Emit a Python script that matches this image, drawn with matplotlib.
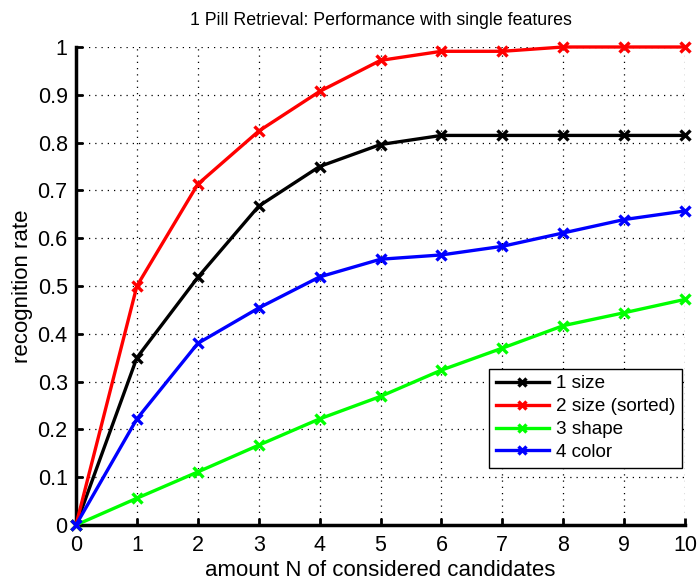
import matplotlib
matplotlib.use("Agg")
import matplotlib.pyplot as plt

plt.rcParams['font.family'] = ['Liberation Sans', 'DejaVu Sans']

n_candidates = list(range(0, 11))
rate_size = [0, 0.350, 0.518, 0.667, 0.750, 0.796, 0.815, 0.815, 0.815, 0.815, 0.815]
rate_size_sorted = [0, 0.500, 0.713, 0.824, 0.907, 0.972, 0.991, 0.991, 1.000, 1.000, 1.000]
rate_shape = [0, 0.056, 0.111, 0.167, 0.222, 0.269, 0.324, 0.370, 0.417, 0.444, 0.472]
rate_color = [0, 0.222, 0.380, 0.454, 0.519, 0.556, 0.565, 0.583, 0.611, 0.639, 0.657]

series = [
    ("1 size", rate_size, "#000000"),
    ("2 size (sorted)", rate_size_sorted, "#ff0000"),
    ("3 shape", rate_shape, "#00ff00"),
    ("4 color", rate_color, "#0000ff"),
]
x_ticks = list(range(0, 11))
y_ticks = [0, 0.1, 0.2, 0.3, 0.4, 0.5, 0.6, 0.7, 0.8, 0.9, 1.0]
y_tick_labels = ["0", "0.1", "0.2", "0.3", "0.4", "0.5", "0.6", "0.7", "0.8", "0.9", "1"]

fig = plt.figure(figsize=(6.98, 5.82), dpi=100)
ax = fig.add_axes([76 / 698, 1 - 525 / 582, 609 / 698, 478 / 582])

for label, values, color in series:
    ax.plot(n_candidates, values, color=color, lw=2.4, marker='x', ms=7,
            mew=2.4, label=label, clip_on=False, zorder=3)

ax.set_xlim(0, 10)
ax.set_ylim(0, 1)
ax.set_xticks(x_ticks)
ax.set_yticks(y_ticks)
ax.set_yticklabels(y_tick_labels)
ax.grid(True, color='black', linestyle=(0, (1, 4)), linewidth=0.9)
ax.set_axisbelow(True)
for side in ('top', 'right'):
    ax.spines[side].set_visible(False)
for side in ('left', 'bottom'):
    ax.spines[side].set_linewidth(2.5)
ax.tick_params(direction='in', length=5, width=2, labelsize=15.5)
ax.tick_params(axis='x', pad=7)
ax.tick_params(axis='y', pad=6)

ax.set_title("1 Pill Retrieval: Performance with single features", fontsize=12.8, pad=16)
ax.set_xlabel("amount N of considered candidates", fontsize=16, labelpad=3)
ax.set_ylabel("recognition rate", fontsize=16, labelpad=3)

leg = ax.legend(loc='lower right', bbox_to_anchor=(0.995, 0.12), fontsize=13.6,
                frameon=True, fancybox=False, framealpha=1, edgecolor='black',
                handlelength=2.85, borderpad=0.35, labelspacing=0.3, handletextpad=0.35,
                borderaxespad=0.0)
leg.get_frame().set_linewidth(1.0)
for line in leg.get_lines():
    line.set_markersize(6)

fig.savefig("out.png", dpi=100)
